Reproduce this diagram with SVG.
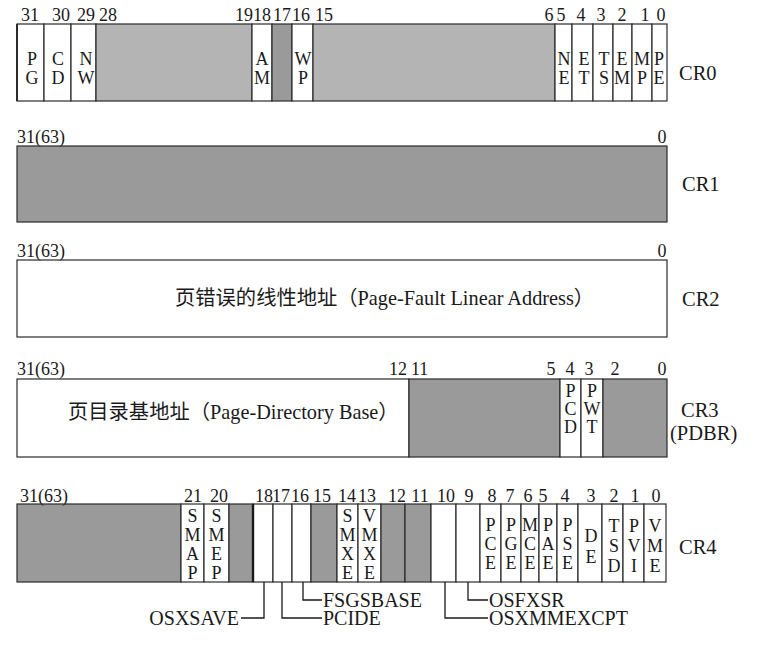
<svg xmlns="http://www.w3.org/2000/svg" width="766" height="650" viewBox="0 0 766 650">
<style>
.c{stroke:#2a2a2a;stroke-width:1.2}
.w{fill:#fff}.lg{fill:#b4b4b4}.dg{fill:#9a9a9a}
text{font-family:"Liberation Serif","Noto Sans CJK SC",serif;fill:#1a1a1a}
.n{font-size:18px}
.m{font-size:18px;text-anchor:middle}
.e{text-anchor:end}
.b{font-size:18px;text-anchor:middle}
.r{font-size:20.5px}
.q{font-size:20px}
.cn{font-size:20.3px}
.ln{fill:none;stroke:#1a1a1a;stroke-width:1.3}
</style>
<rect width="766" height="650" fill="#fff"/>

<g id="cr0">
<rect class="c w" x="17" y="24" width="27" height="77"/>
<rect class="c w" x="44" y="24" width="27" height="77"/>
<rect class="c w" x="71" y="24" width="25" height="77"/>
<rect class="c lg" x="96" y="24" width="156" height="77"/>
<rect class="c w" x="252" y="24" width="20" height="77"/>
<rect class="c dg" x="272" y="24" width="20" height="77"/>
<rect class="c w" x="292" y="24" width="21" height="77"/>
<rect class="c lg" x="313" y="24" width="242" height="77"/>
<rect class="c w" x="555" y="24" width="17" height="77"/>
<rect class="c w" x="572" y="24" width="21" height="77"/>
<rect class="c w" x="593" y="24" width="20" height="77"/>
<rect class="c w" x="613" y="24" width="19" height="77"/>
<rect class="c w" x="632" y="24" width="20" height="77"/>
<rect class="c w" x="652" y="24" width="15" height="77"/>
<line x1="17" y1="24" x2="17" y2="101" stroke="#2a2a2a" stroke-width="2"/>
<g class="n m">
<text x="30" y="21">31</text><text x="61" y="21">30</text><text x="86" y="21">29</text><text x="108" y="21">28</text>
<text x="244" y="21">19</text><text x="262" y="21">18</text><text x="282" y="21">17</text><text x="301" y="21">16</text><text x="324" y="21">15</text>
<text x="549" y="21">6</text><text x="561" y="21">5</text><text x="581" y="21">4</text><text x="601" y="21">3</text><text x="622" y="21">2</text><text x="645" y="21">1</text><text x="661" y="21">0</text>
</g>
<g class="b">
<text x="32" y="65">P<tspan x="32" y="84">G</tspan></text>
<text x="58" y="65">C<tspan x="58" y="84">D</tspan></text>
<text x="86" y="65">N<tspan x="86" y="84">W</tspan></text>
<text x="262" y="65">A<tspan x="262" y="84">M</tspan></text>
<text x="303" y="65">W<tspan x="303" y="84">P</tspan></text>
<text x="564" y="65">N<tspan x="564" y="84">E</tspan></text>
<text x="584" y="65">E<tspan x="584" y="84">T</tspan></text>
<text x="604" y="65">T<tspan x="604" y="84">S</tspan></text>
<text x="622" y="65">E<tspan x="622" y="84">M</tspan></text>
<text x="642" y="65">M<tspan x="642" y="84">P</tspan></text>
<text x="659" y="65">P<tspan x="659" y="84">E</tspan></text>
</g>
<text class="r" x="679" y="80">CR0</text>
</g>

<g id="cr1">
<rect class="c dg" x="17" y="146" width="650" height="76"/>
<text class="n" x="17" y="143">31(63)</text>
<text class="n m" x="662" y="143">0</text>
<text class="r" x="682" y="191">CR1</text>
</g>

<g id="cr2">
<rect class="c w" x="17" y="260" width="650" height="77"/>
<text class="n" x="17" y="257">31(63)</text>
<text class="n m" x="662" y="257">0</text>
<text class="cn" x="175" y="305">页错误的线性地址（Page-Fault Linear Address）</text>
<text class="r" x="682" y="306">CR2</text>
</g>

<g id="cr3">
<rect class="c w" x="17" y="379" width="392" height="78"/>
<rect class="c dg" x="409" y="379" width="151" height="78"/>
<rect class="c w" x="560" y="379" width="21" height="78"/>
<rect class="c w" x="581" y="379" width="22" height="78"/>
<rect class="c dg" x="603" y="379" width="64" height="78"/>
<g class="n">
<text x="17" y="375">31(63)</text>
<text class="e" x="407" y="375">12</text>
<text x="411" y="375">11</text>
<text class="m" x="551" y="375">5</text>
<text class="m" x="570" y="375">4</text>
<text class="m" x="589" y="375">3</text>
<text class="m" x="615" y="375">2</text>
<text class="m" x="662" y="375">0</text>
</g>
<text class="cn" x="68" y="419">页目录基地址（Page-Directory Base）</text>
<g class="b">
<text x="570.5" y="397">P<tspan x="570.5" y="415">C</tspan><tspan x="570.5" y="433">D</tspan></text>
<text x="592" y="397">P<tspan x="592" y="415">W</tspan><tspan x="592" y="433">T</tspan></text>
</g>
<text class="r" x="681" y="417">CR3</text>
<text class="r" x="670" y="440">(PDBR)</text>
</g>

<g id="cr4">
<rect class="c dg" x="17" y="504" width="164" height="78"/>
<rect class="c w" x="181" y="504" width="23" height="78"/>
<rect class="c w" x="204" y="504" width="25" height="78"/>
<rect class="c dg" x="229" y="504" width="24" height="78"/>
<rect class="c w" x="253" y="504" width="20" height="78"/>
<rect class="c w" x="273" y="504" width="19" height="78"/>
<rect class="c w" x="292" y="504" width="19" height="78"/>
<rect class="c dg" x="311" y="504" width="26" height="78"/>
<rect class="c w" x="337" y="504" width="21" height="78"/>
<rect class="c w" x="358" y="504" width="23" height="78"/>
<rect class="c dg" x="381" y="504" width="24" height="78"/>
<rect class="c dg" x="405" y="504" width="26" height="78"/>
<rect class="c w" x="431" y="504" width="25" height="78"/>
<rect class="c w" x="456" y="504" width="24" height="78"/>
<rect class="c w" x="480" y="504" width="21" height="78"/>
<rect class="c w" x="501" y="504" width="20" height="78"/>
<rect class="c w" x="521" y="504" width="18" height="78"/>
<rect class="c w" x="539" y="504" width="18" height="78"/>
<rect class="c w" x="557" y="504" width="21" height="78"/>
<rect class="c w" x="578" y="504" width="24" height="78"/>
<rect class="c w" x="602" y="504" width="21" height="78"/>
<rect class="c w" x="623" y="504" width="21" height="78"/>
<rect class="c w" x="644" y="504" width="22" height="78"/>
<line x1="253" y1="504" x2="253" y2="582" stroke="#1a1a1a" stroke-width="2.4"/>
<g class="n m">
<text x="44" y="502">31(63)</text>
<text x="193" y="502">21</text><text x="219" y="502">20</text>
<text x="264" y="502">18</text><text x="281" y="502">17</text><text x="300" y="502">16</text><text x="322" y="502">15</text>
<text x="347" y="502">14</text><text x="367" y="502">13</text><text x="397" y="502">12</text><text x="420" y="502">11</text>
<text x="446" y="502">10</text><text x="469" y="502">9</text><text x="492" y="502">8</text><text x="510" y="502">7</text>
<text x="528" y="502">6</text><text x="543" y="502">5</text><text x="565" y="502">4</text><text x="591" y="502">3</text>
<text x="614" y="502">2</text><text x="635" y="502">1</text><text x="656" y="502">0</text>
</g>
<g class="b">
<text x="192.5" y="521.5">S<tspan x="192.5" y="540.5">M</tspan><tspan x="192.5" y="559.5">A</tspan><tspan x="192.5" y="578.5">P</tspan></text>
<text x="216.5" y="521.5">S<tspan x="216.5" y="540.5">M</tspan><tspan x="216.5" y="559.5">E</tspan><tspan x="216.5" y="578.5">P</tspan></text>
<text x="347.5" y="521.5">S<tspan x="347.5" y="540.5">M</tspan><tspan x="347.5" y="559.5">X</tspan><tspan x="347.5" y="578.5">E</tspan></text>
<text x="369.5" y="521.5">V<tspan x="369.5" y="540.5">M</tspan><tspan x="369.5" y="559.5">X</tspan><tspan x="369.5" y="578.5">E</tspan></text>
<text x="490.5" y="531">P<tspan x="490.5" y="550">C</tspan><tspan x="490.5" y="569">E</tspan></text>
<text x="511" y="531">P<tspan x="511" y="550">G</tspan><tspan x="511" y="569">E</tspan></text>
<text x="530" y="531">M<tspan x="530" y="550">C</tspan><tspan x="530" y="569">E</tspan></text>
<text x="548" y="531">P<tspan x="548" y="550">A</tspan><tspan x="548" y="569">E</tspan></text>
<text x="567.5" y="531">P<tspan x="567.5" y="550">S</tspan><tspan x="567.5" y="569">E</tspan></text>
<text x="591" y="542">D<tspan x="591" y="563">E</tspan></text>
<text x="614" y="532">T<tspan x="614" y="552">S</tspan><tspan x="614" y="572">D</tspan></text>
<text x="634" y="532">P<tspan x="634" y="552">V</tspan><tspan x="634" y="572">I</tspan></text>
<text x="655" y="532">V<tspan x="655" y="552">M</tspan><tspan x="655" y="572">E</tspan></text>
</g>
<text class="r" x="679" y="554">CR4</text>
</g>

<g id="connectors">
<polyline class="ln" points="264,582 264,618 241,618"/>
<polyline class="ln" points="282,582 282,618 322,618"/>
<polyline class="ln" points="303,582 303,600 322,600"/>
<polyline class="ln" points="445,582 445,618 488,618"/>
<polyline class="ln" points="468,582 468,600 488,600"/>
</g>

<g id="labels" class="q">
<text class="e" x="239" y="625">OSXSAVE</text>
<text x="323" y="625">PCIDE</text>
<text x="323" y="607">FSGSBASE</text>
<text x="489" y="607">OSFXSR</text>
<text x="489" y="625">OSXMMEXCPT</text>
</g>
</svg>
